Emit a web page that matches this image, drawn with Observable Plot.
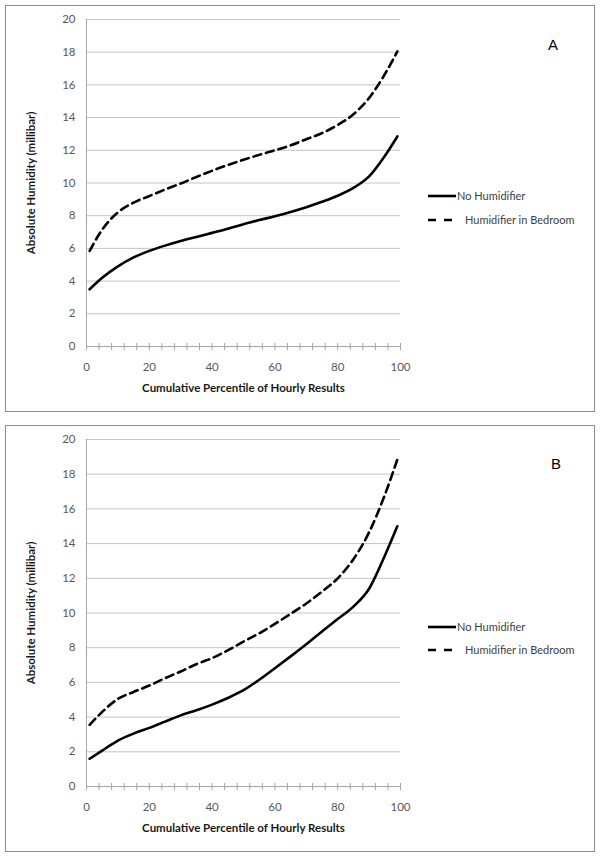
<!DOCTYPE html>
<html>
<head>
<meta charset="utf-8">
<script src="https://cdn.jsdelivr.net/npm/d3@7"></script>
<script src="https://cdn.jsdelivr.net/npm/@observablehq/plot@0.6"></script>
<style>
  body { margin: 0; background: #fff; }
  #page { position: relative; width: 600px; height: 860px; font-family: Lato, "Open Sans", sans-serif; }
  .box { position: absolute; border: 1px solid #8c8c8c; box-sizing: border-box; pointer-events: none; }
  .svgwrap { position: absolute; left: 0; }
  .letter { position: absolute; font-family: "Liberation Sans", Arial, sans-serif; font-size: 15px; line-height: 15px; color: #000; }
  .lg-text { position: absolute; font-size: 11px; line-height: 14px; color: #404040; white-space: nowrap; }
  .lg-line { position: absolute; overflow: visible; }
</style>
</head>
<body>
<div id="page"></div>
<script>
// ---- data ----
const percentiles = [1, 5, 10, 15, 20, 25, 30, 35, 40, 45, 50, 55, 60, 65, 70, 75, 80, 85, 90, 95, 99];

const panelA_noHumidifier = [3.5, 4.2, 4.9, 5.45, 5.85, 6.17, 6.45, 6.7, 6.95, 7.2, 7.48, 7.73, 7.97, 8.23, 8.52, 8.85, 9.22, 9.7, 10.4, 11.65, 12.85];
const panelA_humidifier   = [5.85, 7.15, 8.2, 8.8, 9.2, 9.6, 9.97, 10.37, 10.75, 11.1, 11.42, 11.72, 12.0, 12.3, 12.68, 13.05, 13.55, 14.2, 15.2, 16.65, 18.05];

const panelB_noHumidifier = [1.6, 2.07, 2.65, 3.05, 3.38, 3.74, 4.1, 4.39, 4.72, 5.1, 5.55, 6.15, 6.82, 7.5, 8.2, 8.94, 9.65, 10.37, 11.4, 13.3, 15.0];
const panelB_humidifier   = [3.55, 4.3, 5.05, 5.45, 5.82, 6.24, 6.63, 7.05, 7.4, 7.85, 8.35, 8.83, 9.37, 9.95, 10.55, 11.23, 12.0, 13.1, 14.65, 16.8, 18.85];

const seriesNames = ["No Humidifier", "Humidifier in Bedroom"];
const panelLabels = ["A", "B"];
const yTicks = [0, 2, 4, 6, 8, 10, 12, 14, 16, 18, 20];
const xTickLabels = [0, 20, 40, 60, 80, 100];
const xMinorTicks = [0, 4, 8, 12, 16, 20, 24, 28, 32, 36, 40, 44, 48, 52, 56, 60, 64, 68, 72, 76, 80, 84, 88, 92, 96, 100];
const xTitle = "Cumulative Percentile of Hourly Results";
const yTitle = "Absolute Humidity (millibar)";

// ---- layout ----
const page = document.getElementById("page");
const panels = [
  { label: panelLabels[0], solid: panelA_noHumidifier, dashed: panelA_humidifier,
    svgTop: 0, svgHeight: 412, boxTop: 5, boxHeight: 407, letterTop: 37, letterLeft: 548, legendY: [196, 220] },
  { label: panelLabels[1], solid: panelB_noHumidifier, dashed: panelB_humidifier,
    svgTop: 420, svgHeight: 432, boxTop: 425, boxHeight: 427, letterTop: 456, letterLeft: 551, legendY: [627, 650] }
];

function rows(values) {
  return percentiles.map((p, i) => ({ p, v: values[i] }));
}

panels.forEach(cfg => {
  const plot = Plot.plot({
    width: 600,
    height: cfg.svgHeight,
    marginLeft: 86,
    marginRight: 200,
    marginTop: 19,
    marginBottom: 66,
    style: { background: "transparent", fontFamily: "Lato, 'Open Sans', sans-serif", overflow: "visible" },
    x: { domain: [0, 100], axis: null },
    y: { domain: [0, 20], axis: null },
    marks: [
      // gridlines
      Plot.ruleY(yTicks.filter(d => d > 0), { stroke: "#c4c4c4", strokeWidth: 1 }),
      // axis lines
      Plot.ruleX([0], { stroke: "#a6a6a6", strokeWidth: 1 }),
      Plot.ruleY([0], { stroke: "#a6a6a6", strokeWidth: 1 }),
      // x tick marks (crossing the axis)
      Plot.ruleX(xMinorTicks, { x: d => d, y1: 0, y2: 0, insetTop: -3, insetBottom: -4, stroke: "#a6a6a6", strokeWidth: 1 }),
      // tick labels
      Plot.axisY({ ticks: yTicks, tickSize: 0, tickPadding: 11, fontSize: 11.5, color: "#595959", label: null }),
      Plot.axisX({ ticks: xTickLabels, tickSize: 0, tickPadding: 16, fontSize: 11.5, color: "#595959", label: null }),
      // axis titles
      Plot.text([xTitle], { frameAnchor: "bottom", textAnchor: "middle", dy: 45, fontWeight: "bold", fontSize: 11.5, fill: "#1a1a1a" }),
      Plot.text([yTitle], { frameAnchor: "left", textAnchor: "middle", dx: -55, rotate: -90, fontWeight: "bold", fontSize: 11.5, fill: "#1a1a1a" }),
      // data lines
      Plot.line(rows(cfg.dashed), { x: "p", y: "v", stroke: "#000", strokeWidth: 2.6, strokeDasharray: "8,5", curve: "monotone-x" }),
      Plot.line(rows(cfg.solid), { x: "p", y: "v", stroke: "#000", strokeWidth: 2.6, curve: "monotone-x" })
    ]
  });
  const wrap = document.createElement("div");
  wrap.className = "svgwrap";
  wrap.style.top = cfg.svgTop + "px";
  wrap.appendChild(plot);
  page.appendChild(wrap);

  const box = document.createElement("div");
  box.className = "box";
  Object.assign(box.style, { left: "5px", top: cfg.boxTop + "px", width: "590px", height: cfg.boxHeight + "px" });
  page.appendChild(box);

  const letter = document.createElement("div");
  letter.className = "letter";
  letter.textContent = cfg.label;
  Object.assign(letter.style, { left: cfg.letterLeft + "px", top: cfg.letterTop + "px" });
  page.appendChild(letter);

  // legend
  seriesNames.forEach((name, i) => {
    const y = cfg.legendY[i];
    const ns = "http://www.w3.org/2000/svg";
    const svg = document.createElementNS(ns, "svg");
    svg.setAttribute("class", "lg-line");
    svg.setAttribute("width", "30");
    svg.setAttribute("height", "6");
    svg.style.left = "428px";
    svg.style.top = (y - 3) + "px";
    const ln = document.createElementNS(ns, "line");
    ln.setAttribute("x1", "0"); ln.setAttribute("x2", i === 0 ? "28" : "25");
    ln.setAttribute("y1", "3"); ln.setAttribute("y2", "3");
    ln.setAttribute("stroke", "#000"); ln.setAttribute("stroke-width", "2.6");
    if (i === 1) ln.setAttribute("stroke-dasharray", "8,8");
    svg.appendChild(ln);
    page.appendChild(svg);
    const t = document.createElement("div");
    t.className = "lg-text";
    t.textContent = name;
    t.style.left = (i === 0 ? 457 : 465) + "px";
    t.style.top = (y - 7) + "px";
    page.appendChild(t);
  });
});
</script>
</body>
</html>
